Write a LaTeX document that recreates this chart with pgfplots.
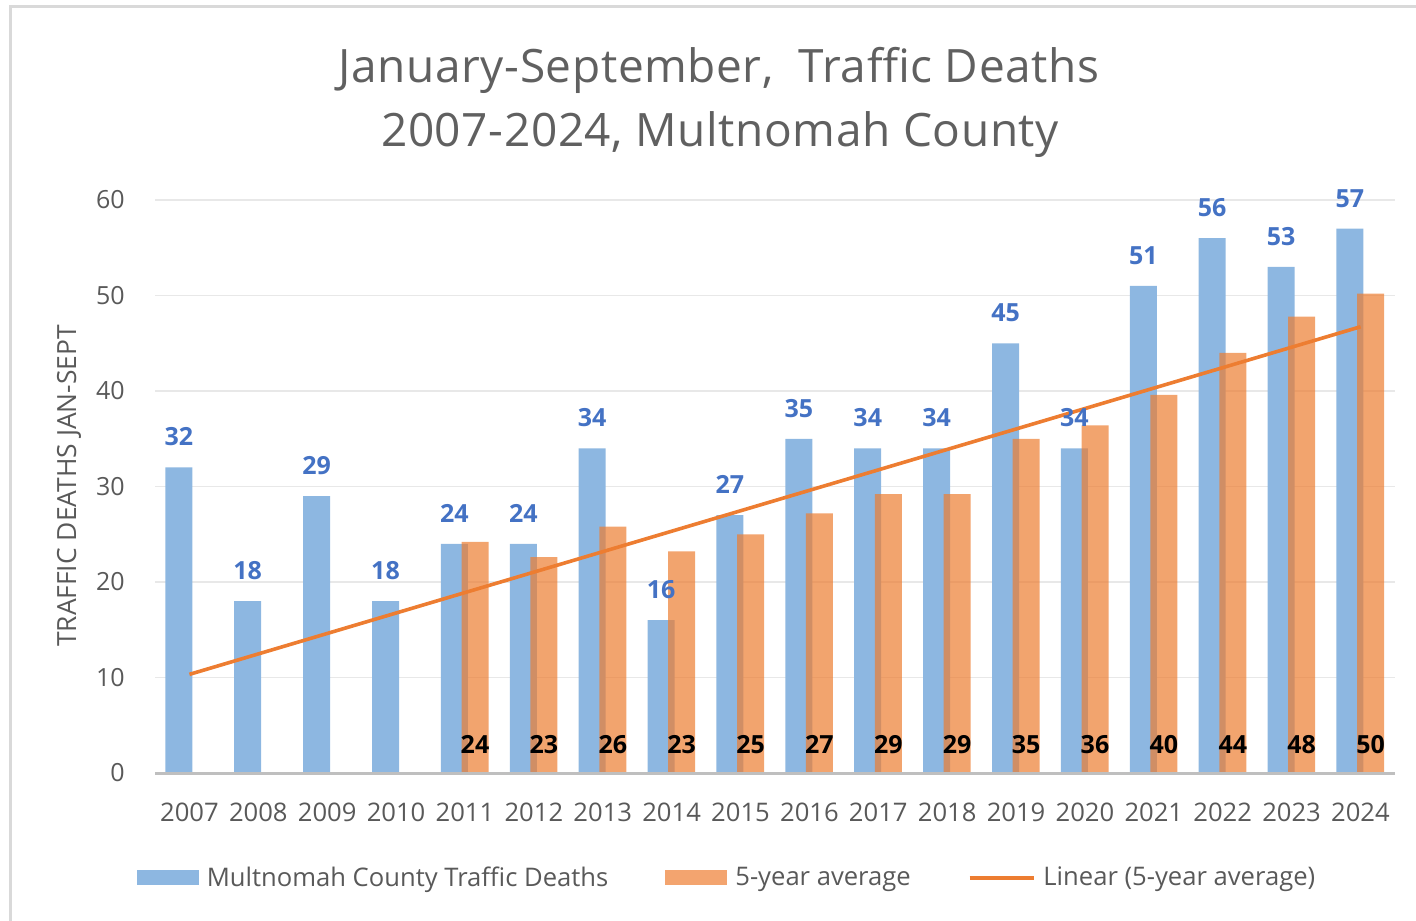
\documentclass[border=0pt]{standalone}
\usepackage{fontspec}
\setmainfont{Open Sans}
\newfontfamily\titlefont[LetterSpace=1.3]{Open Sans}
\usepackage{pgfplots}
\pgfplotsset{compat=1.18}
\definecolor{barblue}{HTML}{8DB7E1}
\definecolor{barorange}{HTML}{ED7D31}
\definecolor{txtgray}{HTML}{595959}
\definecolor{titlegray}{HTML}{606060}
\definecolor{lblblue}{HTML}{4472C4}
\definecolor{gridgray}{HTML}{E8E8E8}
\definecolor{axgray}{HTML}{BFBFBF}
\definecolor{framegray}{HTML}{D9D9D9}
\begin{document}
\begin{tikzpicture}
\useasboundingbox (0,0) rectangle (708pt,-460pt);
\draw[framegray, line width=1.5pt] (5pt,-3.5pt) rectangle (720pt,-470pt);
\node[anchor=base, text=titlegray, font=\titlefont\fontsize{23}{27}\selectfont] at (359.5pt,-41.5pt) {January-September,\ \ Traffic Deaths};
\node[anchor=base, text=titlegray, font=\titlefont\fontsize{23}{27}\selectfont] at (360pt,-73pt) {2007-2024, Multnomah County};
\node[rotate=90, text=txtgray, font=\fontsize{13.2}{15}\selectfont] at (34.5pt,-243pt) {TRAFFIC DEATHS JAN-SEPT};
\begin{axis}[
  at={(77.5pt,-386.5pt)}, anchor=south west,
  width=620pt, height=286.5pt, scale only axis,
  xmin=2006.5, xmax=2024.5, ymin=0, ymax=60,
  axis x line*=bottom, axis y line*=left,
  x axis line style={draw=none},
  y axis line style={draw=none},
  ymajorgrids, grid style={gridgray, line width=0.8pt},
  major tick length=0pt,
  xtick={2007,...,2024}, ytick={0,10,...,60},
  /pgf/number format/assume math mode=true,
  /pgf/number format/1000 sep={},
  tick label style={text=txtgray},
  xticklabel style={inner sep=0pt, anchor=north, yshift=-15pt, font=\fontsize{12.8}{15}\selectfont},
  yticklabel style={inner sep=0pt, anchor=east, xshift=-15pt, font=\fontsize{12.5}{15}\selectfont},
  legend columns=3,
  legend style={at={(0.4605,-0.183)}, anchor=center, draw=none, fill=none,
    font=\fontsize{12.8}{15}\selectfont, text=txtgray,
    /tikz/every odd column/.append style={column sep=4pt},
    /tikz/every even column/.append style={column sep=28.5pt},
    nodes={inner sep=0pt}},
  clip=false,
]
\addplot[ybar, bar width=13.5pt, bar shift=-5.3pt, fill=barblue, draw=none,
  legend image code/.code={\fill[barblue] (0pt,-3.75pt) rectangle (31pt,3.75pt);},
  nodes near coords,
  every node near coord/.append style={anchor=south, inner sep=0pt, xshift=-5.3pt, yshift=10.5pt, text=lblblue, font=\bfseries\fontsize{12.5}{14}\selectfont}]
  coordinates {(2007,32) (2008,18) (2009,29) (2010,18) (2011,24) (2012,24) (2013,34) (2014,16) (2015,27) (2016,35) (2017,34) (2018,34) (2019,45) (2020,34) (2021,51) (2022,56) (2023,53) (2024,57)};
\addlegendentry{Multnomah County Traffic Deaths}
\addplot[ybar, bar width=13.5pt, bar shift=5pt, fill=barorange, fill opacity=0.7, draw=none,
  legend image code/.code={\fill[barorange!70!white, fill opacity=1] (0pt,-3.75pt) rectangle (31pt,3.75pt);},
  visualization depends on={y \as \rawy},
  nodes near coords={\pgfmathprintnumber[fixed,precision=0]{\pgfplotspointmeta}},
  every node near coord/.append style={anchor=base, inner sep=0pt, shift={(axis direction cs:0,-\rawy)}, xshift=5pt, yshift=10pt, text=black, fill opacity=1, text opacity=1, font=\bfseries\fontsize{12.5}{14}\selectfont}]
  coordinates {(2011,24.2) (2012,22.6) (2013,25.8) (2014,23.2) (2015,25) (2016,27.2) (2017,29.2) (2018,29.2) (2019,35) (2020,36.4) (2021,39.6) (2022,44) (2023,47.8) (2024,50.2)};
\addlegendentry{5-year average}
\addplot[sharp plot, color=barorange, line width=1.8pt, mark=none,
  legend image code/.code={\draw[barorange, line width=1.8pt] (0pt,0pt) -- (32pt,0pt);}]
  coordinates {(2007,10.33) (2024,46.73)};
\addlegendentry{Linear (5-year average)}
\addplot[sharp plot, axgray, line width=1.5pt, mark=none, forget plot]
  coordinates {(2006.5,0) (2024.5,0)};
\end{axis}
\end{tikzpicture}
\end{document}
